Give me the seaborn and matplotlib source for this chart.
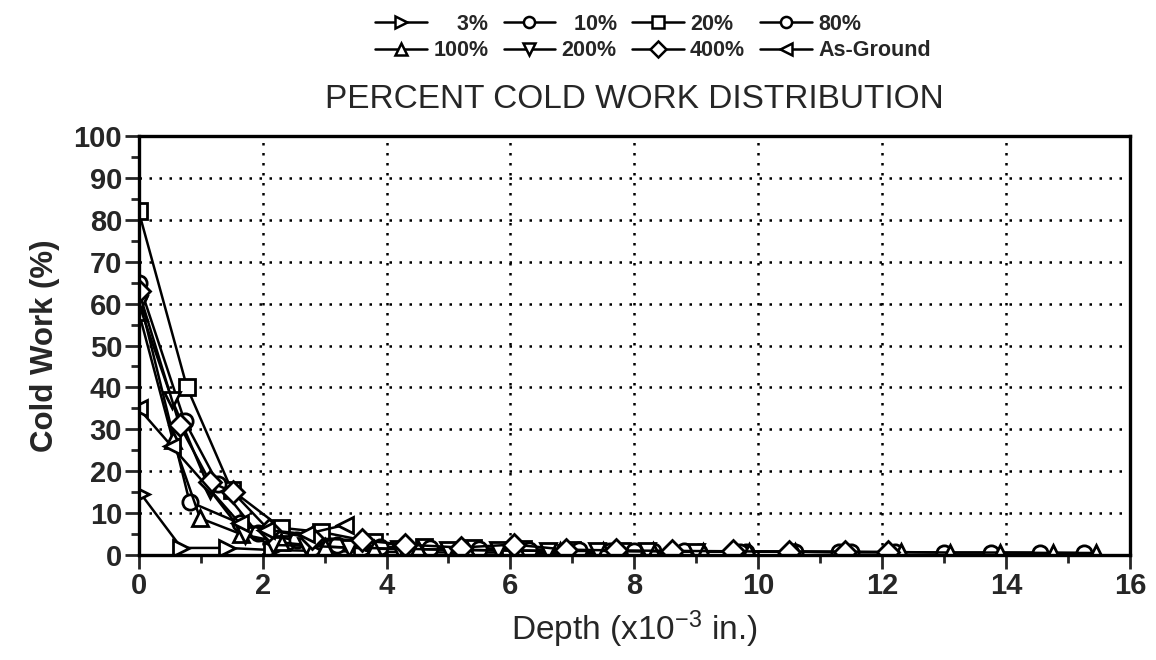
import pandas as pd
import numpy as np
import matplotlib
matplotlib.use("Agg")
import matplotlib.pyplot as plt
from matplotlib.lines import Line2D
from matplotlib.ticker import MultipleLocator
import seaborn as sns

sns.set_style("white")
plt.rcParams['font.family'] = ['Liberation Sans', 'DejaVu Sans']
plt.rcParams['mathtext.default'] = 'regular'

# data (depth in 1e-3 in., cold work in %)
labels = ["3%", "10%", "20%", "80%", "100%", "200%", "400%", "As-Ground"]
markers = [">", "o", "s", "o", "^", "v", "D", "<"]

x_3 = [0.04, 0.69, 1.42, 2.15, 2.85, 3.6, 4.4, 5.2, 6.0, 6.9, 7.8]
y_3 = [14.5, 1.7, 1.7, 1.2, 1.0, 0.8, 0.7, 0.6, 0.6, 0.5, 0.5]

x_10 = [0, 0.82, 1.63, 2.4, 3.1, 3.85, 4.6, 5.35, 6.1, 6.9, 7.6, 8.3, 9.05,
        9.8, 10.55, 11.3, 12.2, 13.0, 13.75, 14.55, 15.25]
y_10 = [62, 12.7, 7.6, 3.0, 2.2, 1.8, 1.5, 1.3, 1.2, 1.0, 1.0, 0.9, 0.8,
        0.8, 0.8, 0.7, 0.7, 0.6, 0.6, 0.6, 0.5]

x_20 = [0, 0.78, 1.5, 2.3, 2.95, 3.8, 4.6, 5.4, 6.2, 7.0, 7.8]
y_20 = [82, 40, 15.5, 6.5, 5.5, 3.0, 2.0, 1.7, 1.4, 1.2, 1.0]

x_80 = [0, 0.74, 1.28, 1.92, 2.55, 3.2, 3.9, 4.7, 5.5, 6.3, 7.1, 8.0, 8.8,
        9.7, 10.6, 11.5]
y_80 = [65, 32, 17, 5.2, 3.5, 2.5, 2.0, 1.6, 1.4, 1.2, 1.1, 1.0, 0.9,
        0.8, 0.8, 0.7]

x_100 = [0, 0.55, 0.99, 1.65, 2.3, 3.0, 3.8, 4.5, 5.3, 6.1, 6.8, 7.5, 8.3,
         9.1, 9.85, 10.6, 11.4, 12.3, 13.1, 13.9, 14.75, 15.45]
y_100 = [58, 27.5, 8.8, 5.0, 3.0, 2.0, 1.5, 1.4, 1.2, 1.1, 1.0, 1.0, 0.9,
         0.8, 0.8, 0.8, 0.7, 0.7, 0.6, 0.6, 0.5, 0.5]

x_200 = [0, 0.54, 1.15, 1.71, 2.17, 2.7, 3.4, 4.2, 5.0, 5.8, 6.6, 7.4, 8.2, 9.0]
y_200 = [60, 37, 15.5, 4.8, 2.4, 2.2, 1.8, 1.5, 1.3, 1.1, 1.0, 1.0, 0.9, 0.8]

x_400 = [0, 0.66, 1.15, 1.52, 2.1, 2.8, 3.6, 4.3, 5.2, 6.05, 6.9, 7.7, 8.6,
         9.6, 10.5, 11.4, 12.1]
y_400 = [63, 31, 17.5, 15, 6.0, 4.0, 3.5, 2.5, 1.8, 2.5, 1.3, 1.1, 1.0,
         0.9, 0.8, 0.8, 0.7]

x_ag = [0, 0.53, 1.63, 2.06, 2.7, 3.33]
y_ag = [35, 26, 7.6, 6.0, 5.0, 7.2]

xs = [x_3, x_10, x_20, x_80, x_100, x_200, x_400, x_ag]
ys = [y_3, y_10, y_20, y_80, y_100, y_200, y_400, y_ag]

df = pd.concat([pd.DataFrame({"depth": x, "cw": y, "series": lab})
                for x, y, lab in zip(xs, ys, labels)], ignore_index=True)

fig = plt.figure(figsize=(11.56, 6.6), dpi=100)
ax = fig.add_axes([0.120, 0.159, 0.8575, 0.635])

sns.lineplot(data=df, x="depth", y="cw", style="series", markers=dict(zip(labels, markers)),
             dashes=False, color="black", estimator=None, sort=False, legend=False,
             markersize=11, markerfacecolor="white", markeredgecolor="black",
             markeredgewidth=2, linewidth=1.8, ax=ax)

ax.set_xlim(0, 16)
ax.set_ylim(0, 100)
ax.xaxis.set_major_locator(MultipleLocator(2))
ax.xaxis.set_minor_locator(MultipleLocator(1))
ax.yaxis.set_major_locator(MultipleLocator(10))
ax.yaxis.set_minor_locator(MultipleLocator(5))
ax.grid(True, which="major", color="black", linestyle=(0, (1, 3)), linewidth=1.8)
ax.tick_params(which="major", direction="out", length=10, width=2,
               bottom=True, left=True, labelsize=21, pad=2)
ax.tick_params(which="minor", direction="out", length=6, width=2,
               bottom=True, left=True)
for lab in ax.get_xticklabels() + ax.get_yticklabels():
    lab.set_fontweight("bold")
for sp in ax.spines.values():
    sp.set_linewidth(2.4)
    sp.set_color("black")

ax.set_xlabel("Depth (x10$^{-3}$ in.)", fontsize=24, labelpad=6)
ax.set_ylabel("Cold Work (%)", fontsize=22.5, fontweight="bold", labelpad=10)
ax.set_title("PERCENT COLD WORK DISTRIBUTION", fontsize=24, pad=20)

# legend, filled row by row
handles = [Line2D([], [], color="black", marker=m, markersize=8, markerfacecolor="white",
                  markeredgewidth=1.8, linewidth=1.8) for m in markers]
order = [0, 4, 1, 5, 2, 6, 3, 7]
shown = ["    3%", "  10%", "20%", "80%", "100%", "200%", "400%", "As-Ground"]
fig.legend([handles[i] for i in order], [shown[i] for i in order],
           loc="upper center", bbox_to_anchor=(0.565, 1.0), ncol=4, frameon=False,
           prop={"size": 15.5, "weight": "bold"}, handlelength=2.4, handletextpad=0.3,
           columnspacing=0.7, labelspacing=0.25, borderaxespad=0.25)

fig.savefig("out.png", dpi=100)
